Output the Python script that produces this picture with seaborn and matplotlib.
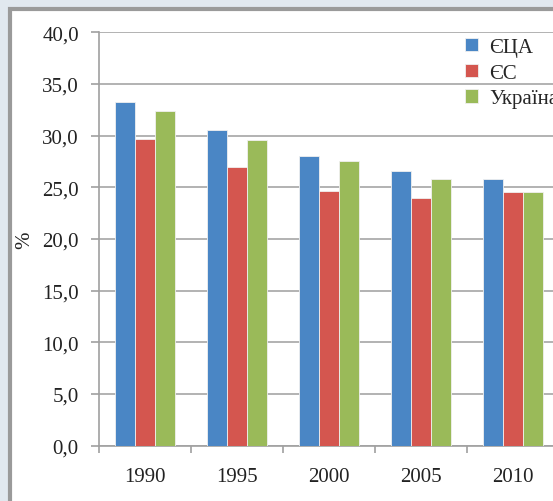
import numpy as np
import pandas as pd
import matplotlib
matplotlib.use("Agg")
import matplotlib.pyplot as plt
from matplotlib.patches import Rectangle
from matplotlib.ticker import FixedLocator, FuncFormatter
import seaborn as sns

years = ["1990", "1995", "2000", "2005", "2010"]
usa = [33.3, 30.5, 28.0, 26.6, 25.8]
eu = [29.7, 27.0, 24.6, 24.0, 24.5]
ukraine = [32.4, 29.6, 27.5, 25.8, 24.5]
series = ["ЄЦА", "ЄС", "Україна"]
colors = ["#4a86c5", "#d4564f", "#9aba59"]

df = pd.DataFrame({
    "year": years * 3,
    "value": usa + eu + ukraine,
    "series": [series[0]] * 5 + [series[1]] * 5 + [series[2]] * 5,
})

sns.set_style("white")
plt.rcParams["font.family"] = ["Liberation Serif", "DejaVu Serif"]
plt.rcParams["font.size"] = 15

fig = plt.figure(figsize=(5.53, 5.02), dpi=100, facecolor="#e1e8ef")
# white panel with grey frame
fig.add_artist(Rectangle((10 / 553, -0.1), 1.1, 1.1 - 10 / 502,
                         transform=fig.transFigure, facecolor="white",
                         edgecolor="#9a9a9a", linewidth=3, zorder=-1))

ax = fig.add_axes([99 / 553, 55.3 / 502, 454 / 553, 413.4 / 502])
ax.set_facecolor("none")

sns.barplot(data=df, x="year", y="value", hue="series", palette=colors,
            saturation=1, width=0.66, gap=0, ax=ax, edgecolor="#f0f0f0",
            linewidth=0.6, zorder=3)

ax.set_ylim(0, 40)
ax.set_xlim(-0.5, -0.5 + 454 / 92)
ax.set_yticks(np.arange(0, 41, 5))
ax.yaxis.set_major_formatter(FuncFormatter(lambda v, p: f"{v:.1f}".replace(".", ",")))
ax.grid(axis="y", color="#a6a6a6", linewidth=1.2, zorder=0)
ax.set_axisbelow(True)

for s in ["top", "right"]:
    ax.spines[s].set_visible(False)
for s in ["left", "bottom"]:
    ax.spines[s].set_color("#a0a0a0")
    ax.spines[s].set_linewidth(1.2)

ax.xaxis.set_minor_locator(FixedLocator(np.arange(-0.5, 5, 1)))
ax.tick_params(axis="x", which="major", length=0, pad=15, labelsize=15,
               colors="#222222")
ax.tick_params(axis="x", which="minor", length=5, width=1.2, color="#a0a0a0",
               direction="out", bottom=True)
ax.tick_params(axis="y", length=6, width=1.2, color="#a0a0a0", pad=8.5,
               labelsize=15, labelcolor="#222222", left=True)

ax.set_xlabel("")
ax.set_ylabel("%", fontsize=15, color="#222222")
ax.yaxis.set_label_coords(-0.143, 0.5)

handles, labels = ax.get_legend_handles_labels()
ax.legend(handles, labels, loc="upper left", frameon=False,
          bbox_to_anchor=(465 / 553, 1 - 39 / 502),
          bbox_transform=fig.transFigure, borderaxespad=0, borderpad=0,
          handlelength=0.6, handleheight=0.6, handletextpad=0.55,
          labelspacing=0.32, fontsize=15)

fig.savefig("out.png", dpi=100, facecolor=fig.get_facecolor())
